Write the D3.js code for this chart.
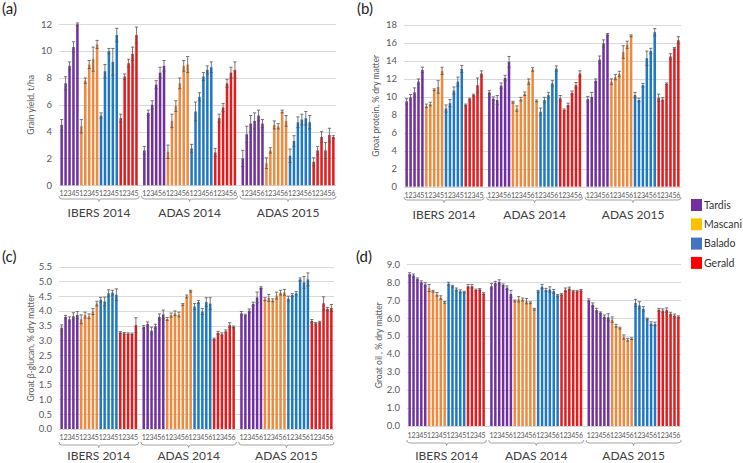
<!DOCTYPE html>
<html>
<head>
<meta charset="utf-8">
<title>groat quality by site</title>
<script src="https://d3js.org/d3.v7.min.js"></script>
<style>
  body { margin: 0; background: #fff; }
  text { font-family: Lato, "Open Sans", sans-serif; fill: #595959; }
  .grid line { stroke: #d9d9d9; stroke-width: 1; }
  .tick-lbl { font-size: 9.5px; }
  .cat { font-size: 7px; }
  .site { font-size: 12px; fill: #404040; }
  .ytitle { font-size: 8.5px; }
  .plab { font-size: 15px; fill: #222; }
  .err { stroke: #555; stroke-width: 0.8; }
</style>
</head>
<body>
<div id="chart"></div>
<script>
var sites = ["IBERS 2014", "ADAS 2014", "ADAS 2015"];
var levels = [5, 6, 6];
var varieties = ["Tardis", "Mascani", "Balado", "Gerald"];

// values in variety order (Tardis, Mascani, Balado, Gerald), site by site
var yieldMean = [
  4.5,7.6,8.9,10.3,12.0, 4.4,7.8,9.0,9.4,10.5, 5.2,8.5,10.0,9.2,11.2, 5.0,8.1,9.1,9.8,11.2,
  2.6,5.4,6.0,7.5,8.4,8.9, 2.5,4.8,5.9,7.6,8.9,9.0, 2.75,5.5,6.6,8.1,8.6,8.8, 2.45,5.0,5.8,7.6,8.4,8.6,
  2.0,3.8,4.6,4.8,5.2,4.6, 1.65,2.6,4.5,4.4,5.5,4.8, 2.2,3.3,4.7,4.9,5.0,4.7, 1.75,2.6,3.6,2.6,3.75,3.6
];
var yieldErr = [
  0.4,0.5,0.3,0.4,0.1, 0.5,0.2,0.3,0.9,0.3, 0.2,0.5,0.2,1.0,0.5, 0.3,0.2,0.3,0.5,0.6,
  0.3,0.2,0.3,0.3,0.4,0.4, 0.5,0.5,0.4,0.4,0.4,0.6, 0.3,0.7,0.3,0.3,0.3,0.4, 0.3,0.3,0.3,0.3,0.4,0.6,
  0.6,0.6,0.6,0.6,0.4,0.3, 0.4,0.2,0.3,0.2,0.1,0.4, 0.5,0.4,0.4,0.4,0.5,0.5, 0.3,0.3,0.4,0.6,0.5,0.1
];
var proteinMean = [
  9.5,9.95,10.5,11.7,13.0, 9.0,9.2,10.8,11.1,12.9, 8.7,9.3,10.7,11.7,13.1, 9.1,9.75,10.2,11.3,12.6,
  10.5,9.8,9.65,11.25,12.1,13.9, 9.4,8.7,9.75,10.35,11.7,13.05, 9.55,8.35,9.65,10.2,11.5,13.15, 9.85,8.55,9.1,10.45,11.3,12.6,
  9.75,10.0,11.8,14.15,15.95,16.95, 11.7,12.2,12.55,15.0,15.8,16.8, 10.2,9.65,11.3,14.3,15.1,17.2, 9.9,9.7,11.45,14.5,15.4,16.3
];
var proteinErr = [
  0.3,0.3,0.5,0.3,0.3, 0.2,0.2,0.1,0.7,0.4, 0.4,0.4,0.4,0.5,0.4, 0.1,0.1,0.1,0.8,0.3,
  0.2,0.2,0.5,0.3,0.3,0.6, 0.1,0.3,0.2,0.2,0.3,0.2, 0.1,0.4,0.3,0.3,0.3,0.3, 0.3,0.1,0.2,0.2,0.3,0.3,
  0.3,0.5,0.2,0.4,0.4,0.1, 0.3,0.3,0.3,0.7,0.4,0.1, 0.3,0.2,0.2,0.8,0.3,0.4, 0.4,0.2,0.1,0.3,0.1,0.4
];
var glucanMean = [
  3.43,3.8,3.72,3.82,3.86, 3.72,3.86,3.82,3.98,4.25, 4.38,4.32,4.6,4.62,4.55, 3.27,3.24,3.23,3.22,3.52,
  3.46,3.56,3.33,3.48,3.8,3.88, 3.73,3.86,3.92,3.88,4.22,4.49, 4.67,4.15,4.3,3.98,4.3,4.25, 3.05,3.26,3.21,3.31,3.52,3.46,
  3.92,3.86,4.01,4.24,4.46,4.79, 4.4,4.44,4.36,4.52,4.62,4.63, 4.42,4.54,4.6,5.07,4.97,5.07, 3.66,3.58,3.62,4.26,4.07,4.1
];
var glucanErr = [
  0.1,0.05,0.08,0.12,0.12, 0.15,0.1,0.08,0.1,0.08, 0.08,0.15,0.12,0.08,0.2, 0.03,0.03,0.03,0.03,0.25,
  0.05,0.07,0.12,0.07,0.1,0.15, 0.05,0.07,0.08,0.08,0.03,0.05, 0.03,0.1,0.05,0.1,0.15,0.2, 0.03,0.05,0.05,0.05,0.08,0.03,
  0.06,0.03,0.06,0.06,0.18,0.03, 0.05,0.12,0.05,0.12,0.08,0.1, 0.08,0.05,0.06,0.05,0.2,0.22, 0.05,0.03,0.03,0.22,0.05,0.12
];
var oilMean = [
  8.45,8.38,8.18,8.0,7.88, 7.68,7.5,7.33,7.15,6.88, 7.92,7.78,7.6,7.5,7.45, 7.78,7.78,7.57,7.6,7.37,
  7.78,7.95,8.02,7.85,7.7,7.35, 6.96,7.05,7.04,6.95,6.86,6.5, 7.5,7.76,7.58,7.6,7.5,7.27, 7.32,7.58,7.65,7.5,7.5,7.55,
  7.0,6.75,6.45,6.3,6.08,6.05, 5.92,5.58,5.45,4.95,4.8,4.86, 6.85,6.72,6.52,5.96,5.7,5.68, 6.47,6.42,6.45,6.25,6.15,6.08
];
var oilErr = [
  0.08,0.08,0.06,0.08,0.1, 0.2,0.05,0.1,0.1,0.05, 0.08,0.05,0.08,0.08,0.05, 0.1,0.1,0.05,0.05,0.05,
  0.15,0.1,0.12,0.06,0.1,0.2, 0.05,0.15,0.08,0.15,0.05,0.05, 0.05,0.12,0.08,0.15,0.1,0.05, 0.05,0.1,0.08,0.05,0.05,0.05,
  0.08,0.1,0.1,0.05,0.1,0.2, 0.15,0.08,0.05,0.12,0.08,0.05, 0.2,0.2,0.12,0.05,0.1,0.1, 0.08,0.1,0.12,0.08,0.08,0.05
];
// first Balado bar at ADAS 2014 is painted in the Mascani colour in (b) and (c)
var recoloured = [
  {panel: "b", site: "ADAS 2014", variety: "Balado", level: 1, as: "Mascani"},
  {panel: "c", site: "ADAS 2014", variety: "Balado", level: 1, as: "Mascani"}
];

var barColour = {Tardis: "#7030A0", Mascani: "#EE8A3E", Balado: "#1F78C4", Gerald: "#E41A1C"};
var keyColour = {Tardis: "#7030A0", Mascani: "#FFC000", Balado: "#4472C4", Gerald: "#FF0000"};

var svg = d3.select("#chart").append("svg").attr("width", 743).attr("height", 463);
svg.append("rect").attr("width", 743).attr("height", 463).attr("fill", "#fff");

var panels = [
  {id: "a", mean: yieldMean, err: yieldErr, ticks: d3.range(0, 12.1, 2), fmt: d3.format("d"),
   title: "Grain yield, t/ha", x0: 60, x1: 335, top: 24.3, bot: 185.3, catY: 194, braceY: 199, siteY: 213, lx: 2, ly: 14},
  {id: "b", mean: proteinMean, err: proteinErr, ticks: d3.range(0, 18.1, 2), fmt: d3.format("d"),
   title: "Groat protein, % dry matter", x0: 405, x1: 680, top: 25, bot: 186.7, catY: 196, braceY: 200, siteY: 215, lx: 357, ly: 14},
  {id: "c", mean: glucanMean, err: glucanErr, ticks: d3.range(0, 5.51, 0.5), fmt: d3.format(".1f"),
   title: "Groat \u03b2-glucan, % dry matter", x0: 60, x1: 333, top: 266.7, bot: 429, catY: 438, braceY: 445, siteY: 455.5, lx: 2, ly: 262},
  {id: "d", mean: oilMean, err: oilErr, ticks: d3.range(0, 9.01, 1), fmt: d3.format(".1f"),
   title: "Groat oil , % dry matter", x0: 408, x1: 680, top: 264.3, bot: 426, catY: 436, braceY: 443, siteY: 455.5, lx: 356, ly: 262}
];

// build bar records and the slot domain (one blank slot between sites)
function buildBars(p) {
  var bars = [], slots = [], i = 0;
  sites.forEach(function(site, s) {
    varieties.forEach(function(v) {
      for (var l = 1; l <= levels[s]; l++) {
        var key = site + "|" + v + "|" + l;
        var col = v;
        recoloured.forEach(function(r) {
          if (r.panel === p.id && r.site === site && r.variety === v && r.level === l) col = r.as;
        });
        bars.push({key: key, site: site, variety: v, level: l, colour: col, mean: p.mean[i], err: p.err[i]});
        slots.push(key);
        i++;
      }
    });
    if (s < sites.length - 1) slots.push("gap" + s);
  });
  return {bars: bars, slots: slots};
}

panels.forEach(function(p) {
  var b = buildBars(p);
  var x = d3.scaleBand().domain(b.slots).range([p.x0, p.x1]).paddingInner(0.36).paddingOuter(0.1);
  var y = d3.scaleLinear().domain([0, p.ticks[p.ticks.length - 1]]).range([p.bot, p.top]);
  var g = svg.append("g");

  g.append("g").attr("class", "grid").selectAll("line")
    .data(p.ticks).enter().append("line")
    .attr("x1", p.x0 - 1).attr("x2", p.x1 + 1)
    .attr("y1", function(d) { return Math.round(y(d)) + 0.5; })
    .attr("y2", function(d) { return Math.round(y(d)) + 0.5; });

  g.selectAll(".tick-lbl").data(p.ticks).enter().append("text")
    .attr("class", "tick-lbl")
    .attr("x", p.x0 - 8).attr("y", function(d) { return y(d); })
    .attr("dy", "0.35em").attr("text-anchor", "end")
    .text(p.fmt);

  g.append("text").attr("class", "ytitle")
    .attr("transform", "translate(" + (p.x0 - 26) + "," + ((p.top + p.bot) / 2) + ") rotate(-90)")
    .attr("text-anchor", "middle").text(p.title);

  g.selectAll(".bar").data(b.bars).enter().append("rect")
    .attr("class", "bar")
    .attr("x", function(d) { return x(d.key); })
    .attr("width", x.bandwidth())
    .attr("y", function(d) { return y(d.mean); })
    .attr("height", function(d) { return y(0) - y(d.mean); })
    .attr("fill", function(d) { return barColour[d.colour]; });

  var eb = g.selectAll(".eb").data(b.bars).enter().append("g").attr("class", "err");
  eb.append("line")
    .attr("x1", function(d) { return x(d.key) + x.bandwidth() / 2; })
    .attr("x2", function(d) { return x(d.key) + x.bandwidth() / 2; })
    .attr("y1", function(d) { return y(d.mean - d.err); })
    .attr("y2", function(d) { return y(d.mean + d.err); });
  [1, -1].forEach(function(sgn) {
    eb.append("line")
      .attr("x1", function(d) { return x(d.key) + x.bandwidth() / 2 - 1.6; })
      .attr("x2", function(d) { return x(d.key) + x.bandwidth() / 2 + 1.6; })
      .attr("y1", function(d) { return y(d.mean + sgn * d.err); })
      .attr("y2", function(d) { return y(d.mean + sgn * d.err); });
  });

  g.selectAll(".cat").data(b.bars).enter().append("text")
    .attr("class", "cat")
    .attr("x", function(d) { return x(d.key) + x.bandwidth() / 2; })
    .attr("y", p.catY).attr("dy", "0.35em").attr("text-anchor", "middle")
    .text(function(d) { return d.level; });

  // site brackets and names
  sites.forEach(function(site) {
    var sb = b.bars.filter(function(d) { return d.site === site; });
    var xs = x(sb[0].key) - 1.5, xe = x(sb[sb.length - 1].key) + x.bandwidth() + 1.5;
    var m = (xs + xe) / 2, by = p.braceY;
    g.append("path")
      .attr("d", "M" + xs + "," + (by - 3) + "Q" + xs + "," + by + " " + (xs + 3) + "," + by +
        "L" + (m - 2) + "," + by + "Q" + m + "," + by + " " + m + "," + (by + 2.5) +
        "Q" + m + "," + by + " " + (m + 2) + "," + by +
        "L" + (xe - 3) + "," + by + "Q" + xe + "," + by + " " + xe + "," + (by - 3))
      .attr("fill", "none").attr("stroke", "#8c8c8c").attr("stroke-width", 0.8);
    g.append("text").attr("class", "site")
      .attr("x", m).attr("y", p.siteY).attr("dy", "0.35em").attr("text-anchor", "middle")
      .text(site);
  });

  svg.append("text").attr("class", "plab").attr("x", p.lx).attr("y", p.ly)
    .text("(" + p.id + ")");
});

var key = svg.append("g").selectAll("g").data(varieties).enter().append("g")
  .attr("transform", function(d, i) { return "translate(691," + (199 + i * 19.3) + ")"; });
key.append("rect").attr("width", 11).attr("height", 12)
  .attr("fill", function(d) { return keyColour[d]; });
key.append("text").attr("x", 13).attr("y", 6).attr("dy", "0.35em")
  .style("font-size", "10.5px").style("fill", "#333").text(function(d) { return d; });
</script>
</body>
</html>
